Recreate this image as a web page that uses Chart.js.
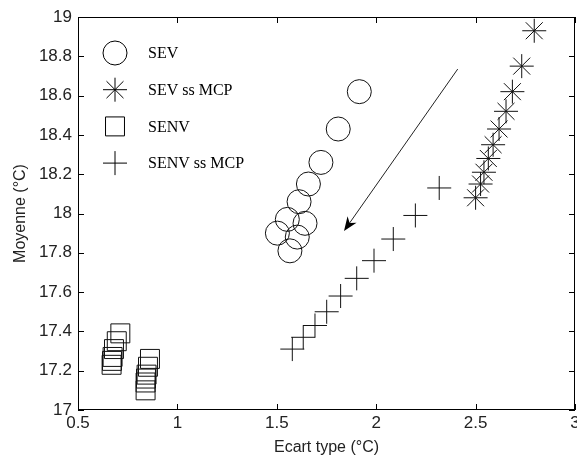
<!DOCTYPE html>
<html>
<head>
<meta charset="utf-8">
<script src="https://cdn.jsdelivr.net/npm/chart.js@4/dist/chart.umd.min.js"></script>
<style>
  body { margin: 0; background: #fff; }
</style>
</head>
<body>
<canvas id="myChart" width="577" height="461"></canvas>
<script>
const xTicks = [0.5, 1, 1.5, 2, 2.5, 3];
const yTicks = [17, 17.2, 17.4, 17.6, 17.8, 18, 18.2, 18.4, 18.6, 18.8, 19];

const sevX = [1.915, 1.809, 1.722, 1.659, 1.612, 1.553, 1.642, 1.503, 1.603, 1.566];
const sevY = [18.62, 18.43, 18.26, 18.15, 18.06, 17.97, 17.95, 17.90, 17.88, 17.81];

const sevMcpX = [2.795, 2.732, 2.685, 2.653, 2.618, 2.588, 2.564, 2.542, 2.525, 2.500];
const sevMcpY = [18.93, 18.75, 18.62, 18.52, 18.43, 18.35, 18.28, 18.21, 18.15, 18.08];

const senvX = [0.713, 0.695, 0.681, 0.674, 0.671, 0.669, 0.862, 0.852, 0.845, 0.842, 0.840, 0.840];
const senvY = [17.39, 17.35, 17.31, 17.27, 17.25, 17.23, 17.26, 17.22, 17.18, 17.16, 17.14, 17.10];

const senvMcpX = [1.578, 1.633, 1.692, 1.751, 1.821, 1.902, 1.989, 2.086, 2.197, 2.317];
const senvMcpY = [17.31, 17.37, 17.43, 17.50, 17.58, 17.67, 17.76, 17.87, 17.99, 18.13];

// arrow: from [x, y] to [x, y]
const arrowFrom = [2.41, 18.735];
const arrowTo = [1.838, 17.911];

const labels = ['SEV', 'SEV ss MCP', 'SENV', 'SENV ss MCP'];
const styles = ['circle', 'star', 'rect', 'cross'];
const radii = [12, 12, 13.4, 12];

const toPoints = (xs, ys) => xs.map((x, i) => ({ x: x, y: ys[i] }));
const series = [
    toPoints(sevX, sevY),
    toPoints(sevMcpX, sevMcpY),
    toPoints(senvX, senvY),
    toPoints(senvMcpX, senvMcpY)
];

function marker(ctx, style, x, y, r) {
    ctx.beginPath();
    if (style === 'circle') {
        ctx.arc(x, y, r, 0, Math.PI * 2);
    } else if (style === 'rect') {
        const s = r * Math.SQRT1_2;
        ctx.rect(x - s, y - s, 2 * s, 2 * s);
    } else {
        ctx.moveTo(x - r, y); ctx.lineTo(x + r, y);
        ctx.moveTo(x, y - r); ctx.lineTo(x, y + r);
        if (style === 'star') {
            const d = r * Math.SQRT1_2;
            ctx.moveTo(x - d, y - d); ctx.lineTo(x + d, y + d);
            ctx.moveTo(x - d, y + d); ctx.lineTo(x + d, y - d);
        }
    }
    ctx.stroke();
}

const matlabLook = {
    id: 'matlabLook',
    afterDraw(chart) {
        const ctx = chart.ctx;
        const a = chart.chartArea;
        const xs = chart.scales.x;
        const ys = chart.scales.y;
        ctx.save();
        ctx.strokeStyle = '#000';
        ctx.lineWidth = 1;
        ctx.strokeRect(a.left + 0.5, a.top + 0.5, a.right - a.left - 1, a.bottom - a.top - 1);

        // inward ticks on all four sides
        const tl = 6;
        ctx.beginPath();
        xTicks.forEach(v => {
            const px = Math.round(xs.getPixelForValue(v)) + 0.5;
            ctx.moveTo(px, a.bottom); ctx.lineTo(px, a.bottom - tl);
            ctx.moveTo(px, a.top); ctx.lineTo(px, a.top + tl);
        });
        yTicks.forEach(v => {
            const py = Math.round(ys.getPixelForValue(v)) + 0.5;
            ctx.moveTo(a.left, py); ctx.lineTo(a.left + tl, py);
            ctx.moveTo(a.right, py); ctx.lineTo(a.right - tl, py);
        });
        ctx.stroke();

        // arrow
        const x1 = xs.getPixelForValue(arrowFrom[0]), y1 = ys.getPixelForValue(arrowFrom[1]);
        const x2 = xs.getPixelForValue(arrowTo[0]), y2 = ys.getPixelForValue(arrowTo[1]);
        const ang = Math.atan2(y2 - y1, x2 - x1);
        const hl = 14, hw = 5.5;
        const bx = x2 - hl * Math.cos(ang), by = y2 - hl * Math.sin(ang);
        const cx = x2 - hl * 0.7 * Math.cos(ang), cy = y2 - hl * 0.7 * Math.sin(ang);
        ctx.lineWidth = 1;
        ctx.strokeStyle = '#222';
        ctx.beginPath();
        ctx.moveTo(x1, y1); ctx.lineTo(cx, cy);
        ctx.stroke();
        ctx.fillStyle = '#000';
        ctx.beginPath();
        ctx.moveTo(x2, y2);
        ctx.lineTo(bx + hw * Math.sin(ang), by - hw * Math.cos(ang));
        ctx.lineTo(cx, cy);
        ctx.lineTo(bx - hw * Math.sin(ang), by + hw * Math.cos(ang));
        ctx.closePath();
        ctx.fill();

        // legend
        ctx.strokeStyle = '#000';
        ctx.fillStyle = '#000';
        ctx.font = "16px 'Liberation Serif', 'Times New Roman', serif";
        ctx.textBaseline = 'middle';
        labels.forEach((lab, i) => {
            const ly = a.top + 36 + i * 36.7;
            marker(ctx, styles[i], a.left + 37, ly, radii[i]);
            ctx.fillText(lab, a.left + 70, ly + 1);
        });
        ctx.restore();
    }
};

const ctx = document.getElementById('myChart');

new Chart(ctx, {
    type: 'scatter',
    data: {
        datasets: series.map((pts, i) => ({
            label: labels[i],
            data: pts,
            pointStyle: styles[i],
            pointRadius: radii[i],
            pointHoverRadius: radii[i],
            borderColor: '#111',
            backgroundColor: 'rgba(0,0,0,0)',
            pointBorderWidth: 1,
            showLine: false
        }))
    },
    options: {
        responsive: false,
        animation: false,
        devicePixelRatio: 1,
        layout: { autoPadding: false, padding: { top: 17, right: 2, left: 0, bottom: 0 } },
        plugins: {
            legend: { display: false },
            tooltip: { enabled: false }
        },
        scales: {
            x: {
                type: 'linear',
                min: 0.5,
                max: 3,
                afterBuildTicks: s => { s.ticks = xTicks.map(v => ({ value: v })); },
                afterFit: s => { s.height = 51; s.paddingLeft = 0; s.paddingRight = 0; },
                grid: { display: false, drawTicks: false },
                border: { display: false },
                ticks: {
                    color: '#222',
                    padding: 3,
                    maxRotation: 0,
                    font: { family: "'Liberation Sans', Arial, sans-serif", size: 17 },
                    callback: v => String(v)
                },
                title: {
                    display: true,
                    text: 'Ecart type (°C)',
                    color: '#222',
                    padding: { top: 0, bottom: 4 },
                    font: { family: "'Liberation Sans', Arial, sans-serif", size: 16 }
                }
            },
            y: {
                type: 'linear',
                min: 17,
                max: 19,
                afterBuildTicks: s => { s.ticks = yTicks.map(v => ({ value: v })); },
                afterFit: s => { s.width = 78; s.paddingTop = 0; s.paddingBottom = 0; },
                grid: { display: false, drawTicks: false },
                border: { display: false },
                ticks: {
                    color: '#222',
                    padding: 6,
                    font: { family: "'Liberation Sans', Arial, sans-serif", size: 17 },
                    callback: v => String(Math.round(v * 10) / 10)
                },
                title: {
                    display: true,
                    text: 'Moyenne (°C)',
                    color: '#222',
                    padding: { top: 11, bottom: 0 },
                    font: { family: "'Liberation Sans', Arial, sans-serif", size: 16 }
                }
            }
        }
    },
    plugins: [matlabLook]
});
</script>
</body>
</html>
